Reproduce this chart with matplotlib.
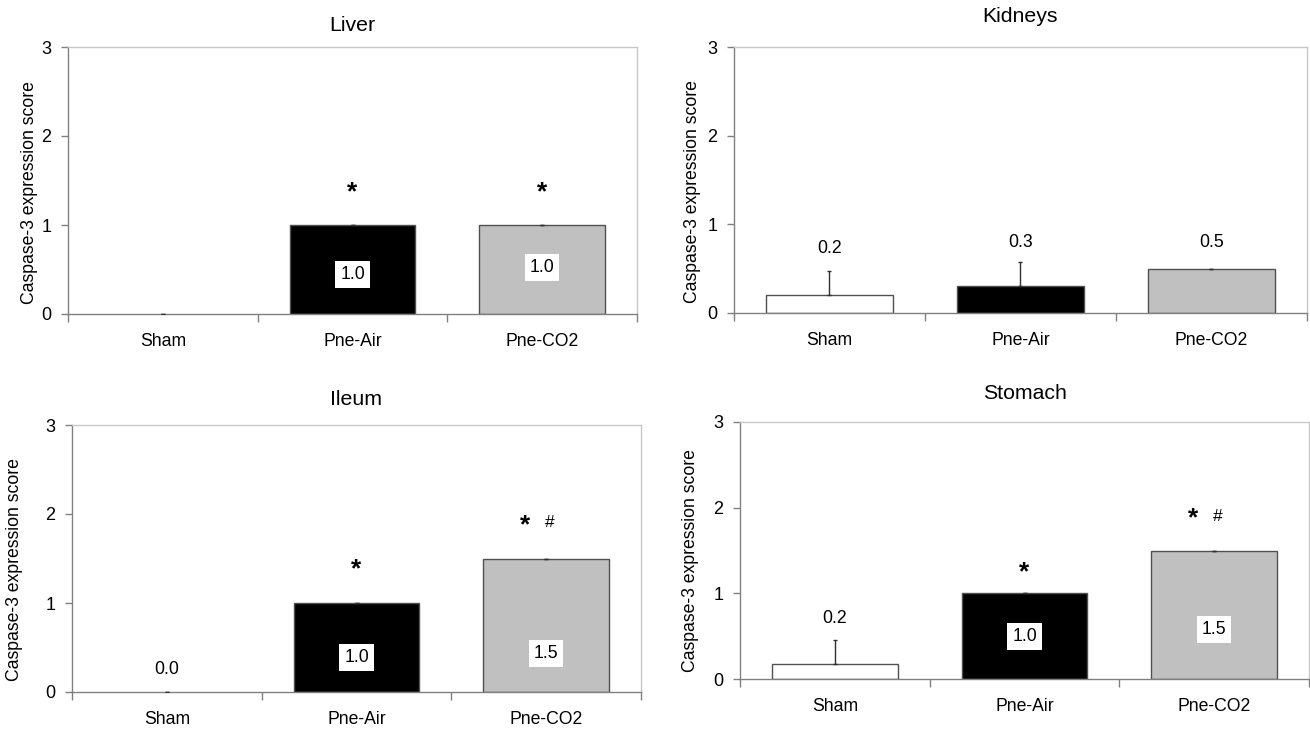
import matplotlib
matplotlib.use("Agg")
import matplotlib.pyplot as plt

plt.rcParams['font.family'] = ['Liberation Sans', 'DejaVu Sans']

categories = ["Sham", "Pne-Air", "Pne-CO2"]
bar_colors = ["#ffffff", "#000000", "#c0c0c0"]

titles = ["Liver", "Kidneys", "Ileum", "Stomach"]

liver_vals = [0.0, 1.0, 1.0]
liver_err = [0.0, 0.0, 0.0]
liver_labels = ["", "1.0", "1.0"]
liver_label_y = [0.0, 0.44, 0.52]
liver_sig = ["", "*", "*"]
liver_sig_y = [0.0, 1.37, 1.37]

kidneys_vals = [0.2, 0.3, 0.5]
kidneys_err = [0.27, 0.28, 0.0]
kidneys_labels = ["0.2", "0.3", "0.5"]
kidneys_label_y = [0.73, 0.80, 0.80]
kidneys_sig = ["", "", ""]
kidneys_sig_y = [0.0, 0.0, 0.0]

ileum_vals = [0.0, 1.0, 1.5]
ileum_err = [0.0, 0.0, 0.0]
ileum_labels = ["0.0", "1.0", "1.5"]
ileum_label_y = [0.25, 0.39, 0.43]
ileum_sig = ["", "*", "*#"]
ileum_sig_y = [0.0, 1.38, 1.87]

stomach_vals = [0.17, 1.0, 1.5]
stomach_err = [0.28, 0.0, 0.0]
stomach_labels = ["0.2", "1.0", "1.5"]
stomach_label_y = [0.71, 0.50, 0.58]
stomach_sig = ["", "*", "*#"]
stomach_sig_y = [0.0, 1.25, 1.87]

ylabel = "Caspase-3 expression score"
yticks = [0, 1, 2, 3]

panels = [
    (liver_vals, liver_err, liver_labels, liver_label_y, liver_sig, liver_sig_y),
    (kidneys_vals, kidneys_err, kidneys_labels, kidneys_label_y, kidneys_sig, kidneys_sig_y),
    (ileum_vals, ileum_err, ileum_labels, ileum_label_y, ileum_sig, ileum_sig_y),
    (stomach_vals, stomach_err, stomach_labels, stomach_label_y, stomach_sig, stomach_sig_y),
]

W, H = 1310, 731
# axes boxes in pixels: left, top, right, bottom
boxes = [(68, 47, 637, 314), (734, 47, 1307, 313), (72, 425, 641, 692), (740, 422, 1309, 679)]
ylabel_pos = [(-0.053, 0.453), (-0.058, 0.455), (-0.086, 0.46), (-0.072, 0.46)]
title_y = [1.082, 1.113, 1.094, 1.109]

fig = plt.figure(figsize=(W / 100, H / 100), dpi=100)

for i, (vals, errs, labels, label_y, sig, sig_y) in enumerate(panels):
    l, t, r, b = boxes[i]
    ax = fig.add_axes([l / W, 1 - b / H, (r - l) / W, (b - t) / H])
    x = list(range(len(categories)))
    lws = [1.0 if v > 0 else 0.0 for v in vals]
    ax.bar(x, vals, width=0.664, color=bar_colors, edgecolor="#505050", linewidth=lws, zorder=2)
    ax.errorbar(x, vals, yerr=[[0] * len(errs), errs], fmt="none", ecolor="#303030",
                elinewidth=1.0, capsize=1.6, capthick=1.0, zorder=3)
    ax.set_xlim(-0.5, 2.5)
    ax.set_ylim(0, 3)
    ax.set_yticks(yticks)
    ax.set_yticklabels([str(v) for v in yticks])
    ax.set_xticks([-0.5, 0.5, 1.5, 2.5])
    ax.set_xticklabels([])
    ax.set_xticks(x, minor=True)
    ax.set_xticklabels(categories, minor=True)
    ax.tick_params(axis="x", which="major", direction="out", length=6, width=1, color="#808080")
    ax.tick_params(axis="x", which="minor", length=0, pad=14, labelsize=12.7)
    ax.tick_params(axis="y", direction="out", length=5, width=1, color="#808080", pad=7, labelsize=13)
    for s in ["left", "bottom"]:
        ax.spines[s].set_color("#808080")
        ax.spines[s].set_linewidth(1.0)
    for s in ["top", "right"]:
        ax.spines[s].set_color("#c8c8c8")
        ax.spines[s].set_linewidth(1.0)
    ax.set_ylabel(ylabel, fontsize=12.7)
    ax.yaxis.set_label_coords(*ylabel_pos[i])
    ax.text(0.5, title_y[i], titles[i], transform=ax.transAxes, ha="center", va="center", fontsize=15.3)

    for j in x:
        if labels[j]:
            boxed = vals[j] > label_y[j]
            kw = dict(ha="center", va="center", fontsize=12.7, zorder=5)
            if boxed:
                kw["bbox"] = dict(boxstyle="square,pad=0.28", facecolor="white", edgecolor="none")
            ax.text(j, label_y[j], labels[j], **kw)
        if sig[j] == "*":
            ax.text(j, sig_y[j], "*", ha="center", va="center", fontsize=19, fontweight="bold", zorder=5)
        elif sig[j] == "*#":
            ax.annotate("*", (j, sig_y[j]), xytext=(-15, 0), textcoords="offset points",
                        ha="center", va="center", fontsize=19, fontweight="bold", zorder=5)
            ax.annotate("#", (j, sig_y[j]), xytext=(2.5, 2), textcoords="offset points",
                        ha="center", va="center", fontsize=12.5, zorder=5)

fig.savefig("out.png", dpi=100)
